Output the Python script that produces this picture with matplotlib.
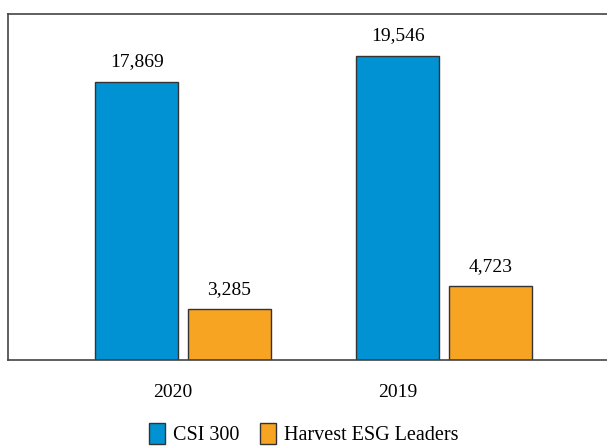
import matplotlib.pyplot as plt
import numpy as np

plt.rcParams['font.family'] = ['Liberation Serif', 'DejaVu Serif']

years = ['2020', '2019']
csi300 = [17869, 19546]
harvest = [3285, 4723]

blue = '#0092d2'
orange = '#f7a423'

fig = plt.figure(figsize=(6.07, 4.47), dpi=100)
# axes box runs off the right edge like the source image
ax = fig.add_axes([8 / 607, 1 - 360 / 447, 611 / 607, 346 / 447])

x = np.arange(len(years))
w = 0.318
off = 0.177
b1 = ax.bar(x - off, csi300, w, color=blue, edgecolor='#333333', linewidth=1, label='CSI 300')
b2 = ax.bar(x + off, harvest, w, color=orange, edgecolor='#333333', linewidth=1, label='Harvest ESG Leaders')

for bars in (b1, b2):
    for r in bars:
        h = r.get_height()
        ax.annotate(f'{h:,.0f}', (r.get_x() + r.get_width() / 2, h), xytext=(0, 8),
                    textcoords='offset points', ha='center', va='bottom', fontsize=14)

ax.set_xlim(-0.67, 1.67)
ax.set_ylim(0, 22215)
ax.set_yticks([])
ax.set_xticks([-0.038, 0.824])
ax.set_xticklabels(years, fontsize=14)
ax.tick_params(axis='x', length=0, pad=17)
for s in ax.spines.values():
    s.set_color('#444444')
    s.set_linewidth(1.2)

fig.legend(loc='center', bbox_to_anchor=(0.5, 1 - 434 / 447), ncol=2, frameon=False,
           fontsize=14.5, handlelength=0.8, handleheight=1.2, handletextpad=0.4, columnspacing=1.0,
           borderaxespad=0, borderpad=0.2)

fig.savefig('out.png', dpi=100)
